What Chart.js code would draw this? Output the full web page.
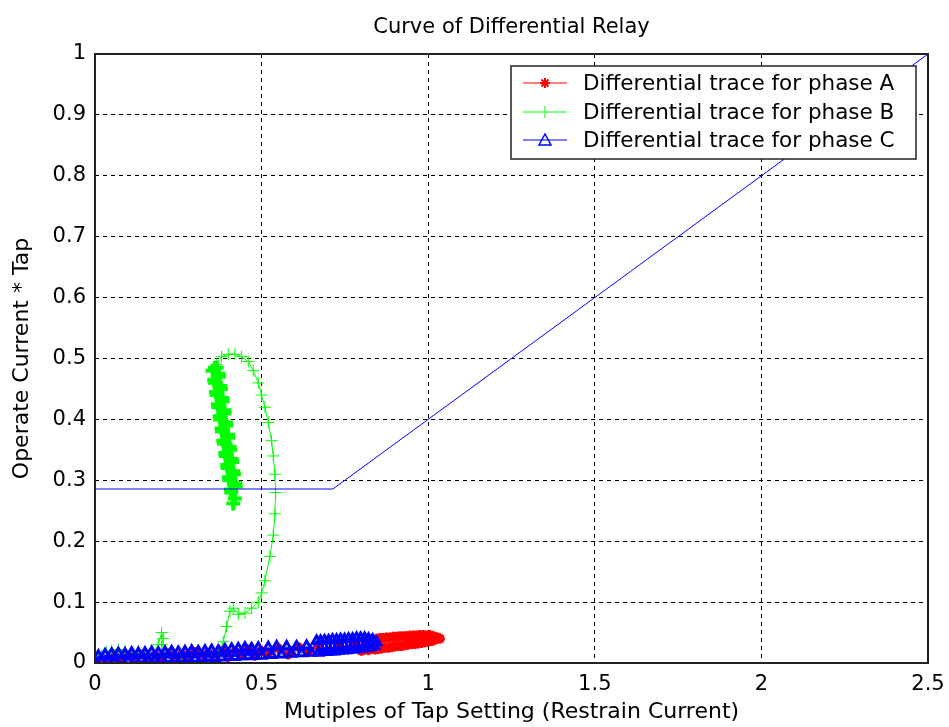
<!DOCTYPE html>
<html>
<head>
<meta charset="utf-8">
<script src="https://cdn.jsdelivr.net/npm/chart.js@4.4.1/dist/chart.umd.min.js"></script>
<style>
  html, body { margin: 0; padding: 0; background: #fff; }
  #wrap { width: 949px; height: 727px; }
</style>
</head>
<body>
<div id="wrap"><canvas id="chart" width="949" height="727"></canvas></div>
<script>
// Chart text
const chartTitle = 'Curve of Differential Relay';
const xTitle = 'Mutiples of Tap Setting (Restrain Current)';
const yTitle = 'Operate Current * Tap';
const seriesNames = ['Differential trace for phase A', 'Differential trace for phase B', 'Differential trace for phase C'];

// Relay characteristic (restraint curve)
const relayX = [0, 0.714, 2.5];
const relayY = [0.2857, 0.2857, 1.0];

// Phase A trace (red, star markers)
const phaseAX = [0.0, 0.02, 0.04, 0.06, 0.08, 0.10, 0.12, 0.14, 0.16, 0.18, 0.20, 0.22, 0.24, 0.26, 0.28, 0.30, 0.32, 0.34, 0.36, 0.38, 0.40, 0.42, 0.44, 0.46, 0.48, 0.50, 0.52, 0.55, 0.58, 0.61, 0.64, 0.67, 0.70, 0.73, 0.76, 0.78,
  0.80, 0.81, 0.82, 0.83, 0.84, 0.845, 0.85, 0.855, 0.86, 0.865, 0.87, 0.875, 0.88, 0.885, 0.89, 0.895, 0.90, 0.905, 0.91, 0.915, 0.92, 0.925, 0.93, 0.935, 0.94, 0.945, 0.95, 0.955, 0.96, 0.965, 0.97, 0.975, 0.98, 0.985, 0.99, 0.995, 1.00, 1.005, 1.01, 1.015, 1.02, 1.028, 1.035];
const phaseAY = [0.0, 0.006, 0.003, 0.010, 0.004, 0.012, 0.006, 0.014, 0.005, 0.012, 0.008, 0.016, 0.007, 0.014, 0.010, 0.018, 0.008, 0.016, 0.012, 0.020, 0.010, 0.018, 0.014, 0.022, 0.012, 0.020, 0.016, 0.024, 0.014, 0.026, 0.018, 0.028, 0.020, 0.030, 0.022, 0.032,
  0.020, 0.036, 0.021, 0.038, 0.022, 0.040, 0.023, 0.041, 0.024, 0.041, 0.025, 0.042, 0.025, 0.042, 0.026, 0.043, 0.027, 0.043, 0.028, 0.044, 0.028, 0.044, 0.029, 0.044, 0.030, 0.045, 0.031, 0.045, 0.031, 0.045, 0.032, 0.046, 0.033, 0.046, 0.034, 0.045, 0.035, 0.046, 0.036, 0.044, 0.038, 0.042, 0.040];

// Phase B trace (green, plus markers): start near origin, loop round, back to the top
const phaseBX = [0.0, 0.01, 0.02, 0.035, 0.05, 0.07, 0.09, 0.11, 0.13, 0.15, 0.17, 0.19, 0.20, 0.205, 0.20, 0.21, 0.23, 0.26, 0.29, 0.32, 0.35, 0.37, 0.385, 0.395, 0.405, 0.415, 0.43, 0.45, 0.47, 0.49, 0.50, 0.51, 0.525, 0.535, 0.54, 0.542, 0.54, 0.535, 0.53, 0.52, 0.51, 0.50, 0.49, 0.475, 0.46, 0.44, 0.42, 0.40, 0.38, 0.365, 0.36];
const phaseBY = [0.0, 0.006, 0.012, 0.018, 0.020, 0.022, 0.020, 0.018, 0.020, 0.015, 0.010, 0.030, 0.050, 0.040, 0.030, 0.020, 0.010, 0.005, 0.003, 0.002, 0.006, 0.015, 0.035, 0.060, 0.085, 0.090, 0.080, 0.082, 0.090, 0.100, 0.115, 0.135, 0.175, 0.210, 0.245, 0.280, 0.310, 0.340, 0.365, 0.395, 0.420, 0.440, 0.460, 0.480, 0.495, 0.503, 0.507, 0.507, 0.503, 0.490, 0.485];

// Phase B dense part (same trace going up and down the narrow strip)
const phaseBDenseX = [0.36, 0.353, 0.372, 0.359, 0.378, 0.365, 0.383, 0.370, 0.389, 0.376, 0.394, 0.381, 0.400, 0.387, 0.406, 0.392, 0.411, 0.398, 0.417, 0.403, 0.422, 0.409, 0.420, 0.415, 0.408, 0.421, 0.402, 0.415, 0.397, 0.410, 0.391, 0.404, 0.385, 0.399, 0.380, 0.393, 0.374, 0.388, 0.369, 0.382, 0.363, 0.376, 0.358, 0.371, 0.365];
const phaseBDenseY = [0.485, 0.480, 0.470, 0.460, 0.450, 0.440, 0.430, 0.420, 0.410, 0.400, 0.390, 0.380, 0.370, 0.360, 0.350, 0.340, 0.330, 0.320, 0.310, 0.300, 0.290, 0.280, 0.270, 0.262, 0.285, 0.295, 0.305, 0.315, 0.325, 0.335, 0.345, 0.355, 0.365, 0.375, 0.385, 0.395, 0.405, 0.415, 0.425, 0.435, 0.445, 0.455, 0.465, 0.475, 0.485];

// Phase C trace (blue, triangle markers)
const phaseCX = [0.00, 0.01, 0.02, 0.03, 0.04, 0.05, 0.06, 0.07, 0.08, 0.09, 0.10, 0.11, 0.12, 0.13, 0.14, 0.15, 0.16, 0.17, 0.18, 0.19, 0.20, 0.21, 0.22, 0.23, 0.24, 0.25, 0.26, 0.27, 0.28, 0.29, 0.30, 0.31, 0.32, 0.33, 0.34, 0.35, 0.36, 0.37, 0.38, 0.39, 0.40, 0.41, 0.42, 0.43, 0.44, 0.45, 0.46, 0.47, 0.48, 0.49, 0.50,
  0.52, 0.53, 0.545, 0.56, 0.575, 0.59, 0.605, 0.62, 0.635, 0.65,
  0.665, 0.671, 0.677, 0.683, 0.689, 0.695, 0.701, 0.707, 0.713, 0.719, 0.725, 0.731, 0.737, 0.743, 0.749, 0.755, 0.761, 0.767, 0.773, 0.779, 0.785, 0.791, 0.797, 0.803, 0.809, 0.815, 0.821, 0.827, 0.833, 0.839, 0.845];
const phaseCY = [0.000, 0.012, 0.003, 0.014, 0.004, 0.015, 0.003, 0.016, 0.005, 0.015, 0.004, 0.017, 0.005, 0.016, 0.006, 0.017, 0.005, 0.018, 0.006, 0.017, 0.006, 0.018, 0.007, 0.019, 0.006, 0.018, 0.007, 0.019, 0.008, 0.020, 0.007, 0.019, 0.008, 0.020, 0.009, 0.021, 0.008, 0.020, 0.009, 0.022, 0.010, 0.023, 0.010, 0.024, 0.011, 0.025, 0.011, 0.024, 0.012, 0.025, 0.012,
  0.026, 0.013, 0.027, 0.014, 0.027, 0.015, 0.027, 0.016, 0.028, 0.017,
  0.036, 0.017, 0.036, 0.018, 0.037, 0.018, 0.037, 0.019, 0.038, 0.019, 0.038, 0.020, 0.039, 0.021, 0.039, 0.021, 0.040, 0.022, 0.040, 0.022, 0.041, 0.023, 0.041, 0.024, 0.041, 0.025, 0.040, 0.026, 0.038, 0.028, 0.034];

const FONT = 'DejaVu Sans';

function toPoints(xs, ys) {
  return xs.map((x, i) => ({ x: x, y: ys[i] }));
}

// MATLAB style tick text: 0, 0.5, 1, 1.5 ...
function tickText(value) {
  return String(parseFloat(Number(value).toFixed(2)));
}

// Frame, title, legend drawn on top of the plot
const framePlugin = {
  id: 'frame',
  afterDraw(chart) {
    const ctx = chart.ctx;
    const a = chart.chartArea;
    ctx.save();
    // title
    ctx.fillStyle = '#000';
    ctx.font = '21px ' + FONT;
    ctx.textAlign = 'center';
    ctx.textBaseline = 'middle';
    ctx.fillText(chartTitle, (a.left + a.right) / 2, 28);
    // solid box round the axes
    ctx.strokeStyle = '#222';
    ctx.lineWidth = 2;
    ctx.setLineDash([]);
    ctx.strokeRect(a.left, a.top, a.right - a.left, a.bottom - a.top);

    // legend
    const lx = 511, ly = 66, lw = 405, lh = 93;
    ctx.fillStyle = '#fff';
    ctx.fillRect(lx, ly, lw, lh);
    ctx.strokeStyle = '#222';
    ctx.lineWidth = 1.5;
    ctx.strokeRect(lx, ly, lw, lh);
    const colors = ['#ff0000', '#00ff00', '#0000ff'];
    const rows = [83, 112, 140];
    ctx.font = '21.5px ' + FONT;
    ctx.textAlign = 'left';
    rows.forEach((ry, i) => {
      ctx.strokeStyle = colors[i];
      ctx.lineWidth = 1;
      ctx.beginPath();
      ctx.moveTo(523, ry);
      ctx.lineTo(567, ry);
      ctx.stroke();
      const cx = 545;
      ctx.beginPath();
      if (i === 0) {
        ctx.lineWidth = 2;
        for (let k = 0; k < 4; k++) {
          const ang = k * Math.PI / 4;
          ctx.moveTo(cx - 5 * Math.cos(ang), ry - 5 * Math.sin(ang));
          ctx.lineTo(cx + 5 * Math.cos(ang), ry + 5 * Math.sin(ang));
        }
      } else if (i === 1) {
        ctx.moveTo(cx, ry - 6);
        ctx.lineTo(cx, ry + 6);
      } else {
        ctx.lineWidth = 1.5;
        ctx.moveTo(cx, ry - 6);
        ctx.lineTo(cx - 6, ry + 5);
        ctx.lineTo(cx + 6, ry + 5);
        ctx.closePath();
      }
      ctx.stroke();
      ctx.fillStyle = '#000';
      ctx.fillText(seriesNames[i], 583, ry + 1);
    });
    ctx.restore();
  }
};

const chart = new Chart(document.getElementById('chart'), {
  type: 'scatter',
  data: {
    datasets: [
      {
        label: seriesNames[0],
        data: toPoints(phaseAX, phaseAY),
        showLine: true,
        borderColor: '#ff0000',
        borderWidth: 1,
        pointStyle: 'star',
        pointRadius: 5,
        pointBorderWidth: 3,
        pointBorderColor: '#ff0000',
        pointBackgroundColor: '#ff0000',
        order: 4
      },
      {
        label: seriesNames[1],
        data: toPoints(phaseBX, phaseBY),
        showLine: true,
        borderColor: '#00ff00',
        borderWidth: 1,
        pointStyle: 'cross',
        pointRadius: 6,
        pointBorderWidth: 1,
        pointBorderColor: '#00ff00',
        order: 3
      },
      {
        label: seriesNames[1] + ' (dense)',
        data: toPoints(phaseBDenseX, phaseBDenseY),
        showLine: true,
        borderColor: '#00ff00',
        borderWidth: 4,
        pointStyle: 'cross',
        pointRadius: 7,
        pointBorderWidth: 4,
        pointBorderColor: '#00ff00',
        order: 3
      },
      {
        label: seriesNames[2],
        data: toPoints(phaseCX, phaseCY),
        showLine: true,
        borderColor: '#0000ff',
        borderWidth: 1,
        pointStyle: 'triangle',
        pointRadius: 5,
        pointBorderWidth: 3,
        pointBorderColor: '#0000ff',
        pointBackgroundColor: 'rgba(0,0,0,0)',
        order: 2
      },
      {
        label: 'Relay characteristic',
        data: toPoints(relayX, relayY),
        showLine: true,
        borderColor: '#0000ff',
        borderWidth: 1,
        pointRadius: 0,
        order: 1
      }
    ]
  },
  options: {
    responsive: false,
    animation: false,
    layout: { padding: { left: 0, right: 21, top: 54, bottom: 2 } },
    plugins: {
      legend: { display: false },
      title: { display: false },
      tooltip: { enabled: false }
    },
    scales: {
      x: {
        type: 'linear',
        min: 0,
        max: 2.5,
        ticks: { stepSize: 0.5, color: '#000', padding: 9, font: { family: FONT, size: 21 }, callback: tickText },
        grid: { color: '#000', lineWidth: 1, drawTicks: false },
        border: { display: false, dash: [4, 4] },
        title: { display: true, text: xTitle, color: '#000', padding: 0, font: { family: FONT, size: 22 } },
        afterFit(scale) {
          scale.height = 62;
          scale.paddingLeft = 0;
          scale.paddingRight = 0;
        }
      },
      y: {
        type: 'linear',
        min: 0,
        max: 1,
        ticks: { stepSize: 0.1, color: '#000', padding: 9, font: { family: FONT, size: 21 }, callback: tickText },
        grid: { color: '#000', lineWidth: 1, drawTicks: false },
        border: { display: false, dash: [4, 4] },
        title: { display: true, text: yTitle, color: '#000', padding: 9, font: { family: FONT, size: 22 } },
        afterFit(scale) {
          scale.width = 95;
          scale.paddingTop = 0;
          scale.paddingBottom = 0;
        }
      }
    }
  },
  plugins: [framePlugin]
});
</script>
</body>
</html>
